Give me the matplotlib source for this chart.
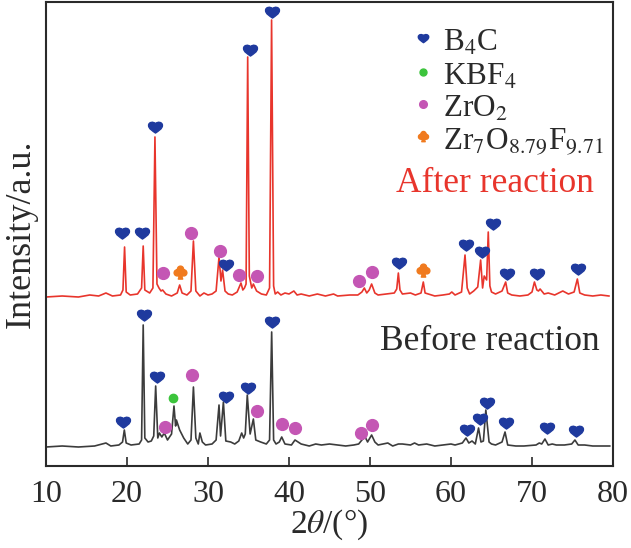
import numpy as np
import matplotlib.pyplot as plt
from matplotlib.path import Path

plt.rcParams['font.family'] = ['Liberation Serif', 'DejaVu Serif']
plt.rcParams['mathtext.fontset'] = 'stix'

# %% DATA (2theta in deg, intensity in arbitrary units)

# after reaction (red trace)
after_x = [10.0, 12.0, 14.0, 15.4, 16.5, 17.4, 18.2, 19.2, 19.5, 19.7, 19.9, 20.4,
           21.3, 21.8, 22.0, 22.2, 22.8, 23.2, 23.45, 23.7, 23.95, 24.2, 24.4, 24.8,
           25.5, 26.2, 26.5, 26.8, 27.4, 27.9, 28.2, 28.5, 29.0, 29.5, 30.0, 30.5,
           31.0, 31.36, 31.6, 31.8, 32.1, 32.5, 33.0, 33.6, 34.07, 34.3, 34.5, 34.7,
           34.9, 35.1, 35.4, 35.6, 36.0, 36.6, 37.2, 37.6, 37.85, 38.1, 38.3, 38.6,
           39.0, 39.5, 40.0, 40.6, 41.0, 41.5, 42.5, 43.5, 44.5, 45.5, 46.0, 47.5,
           48.5, 49.0, 49.3, 49.6, 49.9, 50.2, 50.6, 51.0, 52.0, 53.0, 53.3, 53.5,
           53.7, 54.0, 55.0, 55.6, 56.3, 56.58, 56.8, 57.2, 58.0, 59.0, 59.8, 60.1,
           60.5, 61.3, 61.73, 62.0, 62.3, 62.8, 63.3, 63.66, 63.9, 64.1, 64.4, 64.6,
           64.8, 65.0, 65.5, 66.3, 66.75, 67.0, 67.5, 68.5, 69.5, 70.0, 70.3, 70.6,
           70.8, 71.0, 71.5, 72.0, 72.8, 73.8, 74.5, 75.2, 75.6, 75.9, 76.5, 77.5,
           78.5, 79.5]
after_y = [169, 170, 169, 171, 170, 173, 170, 171, 176, 219, 174, 171,
           172, 178, 220, 176, 173, 178, 329, 182, 178, 175, 176, 172,
           170, 173, 181, 173, 171, 175, 225, 175, 170, 173, 171, 172,
           175, 209, 185, 196, 175, 172, 171, 174, 183, 176, 178, 182,
           409, 190, 178, 182, 175, 172, 171, 178, 446, 180, 172, 174,
           171, 173, 172, 175, 171, 172, 170, 172, 170, 172, 170, 171,
           171, 174, 178, 173, 176, 182, 173, 171, 172, 173, 177, 193,
           176, 172, 173, 171, 173, 184, 173, 172, 170, 171, 172, 174,
           171, 174, 211, 178, 172, 175, 179, 206, 178, 190, 186, 234,
           180, 174, 172, 175, 184, 173, 171, 170, 171, 174, 184, 176,
           175, 177, 172, 173, 171, 175, 172, 174, 187, 173, 171, 170,
           171, 170]

# before reaction (black trace)
before_x = [10.0, 12.0, 14.0, 16.0, 17.4, 18.0, 19.0, 19.45, 19.67, 19.9, 20.5,
            21.5, 21.8, 22.0, 22.2, 22.6, 23.0, 23.3, 23.54, 23.8, 24.0, 24.3, 24.6,
            25.0, 25.5, 25.8, 26.0, 26.1, 26.5, 27.0, 27.5, 27.9, 28.2, 28.5, 28.8,
            29.0, 29.3, 29.7, 30.5, 31.0, 31.36, 31.55, 31.9, 32.2, 32.8, 33.3, 33.8,
            34.16, 34.4, 34.6, 34.85, 35.2, 35.6, 35.9, 36.5, 37.2, 37.6, 37.86, 38.1,
            38.4, 38.8, 39.1, 39.5, 40.3, 40.74, 41.5, 42.5, 43.3, 44.0, 45.0, 46.0,
            47.0, 48.0, 48.6, 49.0, 49.4, 49.7, 50.2, 50.6, 51.0, 52.2, 52.8, 53.5,
            54.0, 55.0, 55.5, 56.0, 57.0, 58.0, 59.0, 60.0, 60.5, 61.4, 61.85, 62.2,
            62.6, 63.0, 63.4, 63.7, 64.0, 64.3, 64.7, 65.0, 65.5, 66.3, 66.67, 67.0,
            68.0, 69.0, 70.5, 70.9, 71.2, 71.6, 72.0, 72.5, 73.0, 74.0, 74.9, 75.3,
            75.7, 76.5, 77.5, 78.5, 79.6]
before_y = [19, 20, 19, 20, 23, 20, 21, 24, 36, 23, 21,
            22, 26, 141, 28, 24, 25, 30, 80, 28, 33, 29, 33,
            26, 32, 60, 40, 46, 36, 28, 22, 26, 79, 28, 22,
            33, 24, 21, 22, 26, 61, 30, 64, 25, 24, 22, 25,
            33, 28, 32, 71, 32, 47, 26, 24, 22, 26, 134, 26,
            22, 24, 29, 22, 21, 26, 22, 20, 22, 21, 22, 21,
            20, 21, 22, 26, 29, 24, 31, 24, 21, 23, 20, 22,
            22, 21, 23, 21, 22, 20, 21, 22, 21, 23, 28, 23,
            25, 22, 38, 24, 25, 56, 24, 22, 21, 24, 34, 21,
            20, 20, 21, 23, 22, 27, 21, 22, 21, 21, 22, 26,
            21, 21, 20, 20, 20]

# phase markers: (2theta, height) for each curve
b4c_after_x = [19.35, 21.9, 23.5, 32.2, 35.2, 37.9, 53.6, 61.9, 63.86, 65.2, 66.9, 70.6, 75.7]
b4c_after_y = [233, 233, 339, 201, 416, 454, 203, 221, 214, 242, 192, 192, 197]
zro2_after_x = [24.5, 27.9, 31.5, 33.87, 36.0, 48.7, 50.2]
zro2_after_y = [193, 233, 215, 191, 190, 185, 194]
zrof_after_x = [26.5, 56.6]
zrof_after_y = [194, 196]

b4c_before_x = [19.47, 22.1, 23.66, 32.2, 34.98, 37.94, 61.94, 63.58, 64.5, 66.8, 71.8, 75.4]
b4c_before_y = [44, 151, 89, 69, 78, 144, 36, 47, 63, 43, 38, 35]
zro2_before_x = [24.7, 27.98, 36.0, 39.17, 40.8, 48.85, 50.3]
zro2_before_y = [39, 91, 55, 42, 38, 33, 41]
kbf4_before_x = [25.7]
kbf4_before_y = [68]

phase_labels = [r'B$_4$C', r'KBF$_4$', r'ZrO$_2$', r'Zr$_7$O$_{8.79}$F$_{9.71}$']
legend_rows = [428, 394, 362, 330]   # marker heights of the key
xticks = [10, 20, 30, 40, 50, 60, 70, 80]

# %% MARKER SHAPES

heart = Path([(0, -0.8), (-0.4, -0.5), (-1.0, -0.2), (-1.0, 0.3),
              (-1.0, 0.8), (-0.3, 0.9), (0, 0.55),
              (0.3, 0.9), (1.0, 0.8), (1.0, 0.3),
              (1.0, -0.2), (0.4, -0.5), (0, -0.8), (0, -0.8)],
             [Path.MOVETO] + [Path.CURVE4] * 12 + [Path.CLOSEPOLY])

c1 = Path.circle((0, 0.45), 0.42)
c2 = Path.circle((-0.45, -0.05), 0.42)
c3 = Path.circle((0.45, -0.05), 0.42)
stem = Path([(0, 0.0), (-0.3, -0.9), (0.3, -0.9), (0, 0.0)],
            [Path.MOVETO, Path.LINETO, Path.LINETO, Path.CLOSEPOLY])
club = Path.make_compound_path(c1, c2, c3, stem)

blue = '#1f3a9e'
green = '#3cc43c'
pink = '#c456b4'
orange = '#f07a1e'
ink = '#2a2a2a'
red = '#e8352c'

# %% PLOT

fig = plt.figure(figsize=(6.31, 5.48), dpi=100)
ax = fig.add_axes([46/631, 1 - 466/548, 567/631, 464/548])

ax.plot(after_x, after_y, color=red, lw=1.2)
ax.plot(before_x, before_y, color='#3c3c3c', lw=1.2)

ax.plot(b4c_after_x, b4c_after_y, ls='none', marker=heart, ms=10, color=blue)
ax.plot(b4c_before_x, b4c_before_y, ls='none', marker=heart, ms=10, color=blue)
ax.plot(zro2_after_x, zro2_after_y, ls='none', marker='o', ms=8.5, color=pink)
ax.plot(zro2_before_x, zro2_before_y, ls='none', marker='o', ms=8.5, color=pink)
ax.plot(zrof_after_x, zrof_after_y, ls='none', marker=club, ms=9.5, color=orange)
ax.plot(kbf4_before_x, kbf4_before_y, ls='none', marker='o', ms=6, color=green)

# key (drawn by hand to match the spacing)
key_markers = [(heart, 7.5, blue), ('o', 5, green), ('o', 5.5, pink), (club, 7.5, orange)]
for (m, size, col), yk, lab in zip(key_markers, legend_rows, phase_labels):
    ax.plot([56.5], [yk], ls='none', marker=m, ms=size, color=col)
    ax.text(59.0, yk - 13, lab, fontsize=22.5, color=ink, ha='left', va='baseline')

ax.text(53.2, 274, 'After reaction', color=red, fontsize=25.5, ha='left', va='baseline')
ax.text(51.2, 116, 'Before reaction', color=ink, fontsize=25.5, ha='left', va='baseline')

ax.set_xlim(10, 80)
ax.set_ylim(0, 464)
ax.set_xticks(xticks)
ax.set_yticks([])
ax.tick_params(axis='x', direction='in', length=6.5, width=1.2, labelsize=23,
               pad=10, colors=ink)
for s in ax.spines.values():
    s.set_linewidth(1.5)
    s.set_color(ink)

ax.set_xlabel(r'2$\theta$/(°)', fontsize=24, color=ink, labelpad=-1)
ax.set_ylabel('Intensity/a.u.', fontsize=26, color=ink, labelpad=6)

fig.savefig('out.png', dpi=100)
